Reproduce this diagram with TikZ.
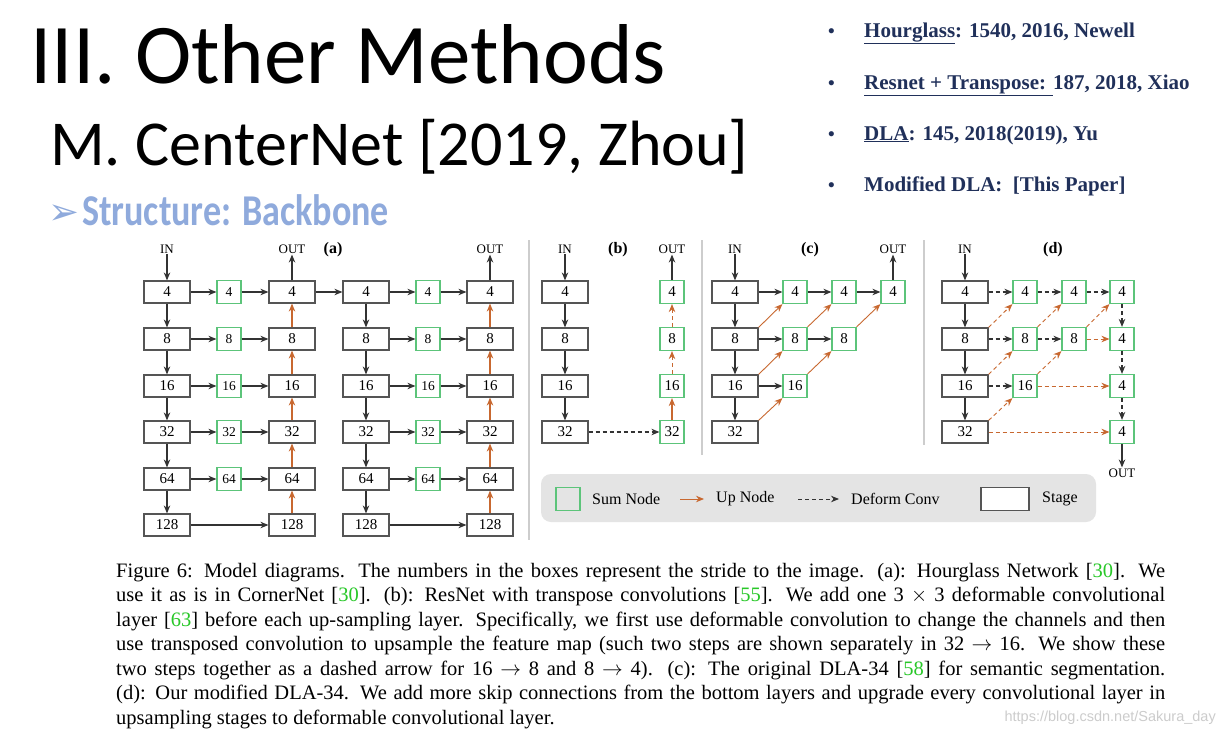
\documentclass[tikz,border=0pt]{standalone}
\usepackage{fontspec}
\usepackage{xcolor}
\usepackage{tikz}
\usetikzlibrary{arrows.meta,positioning}
\setmainfont{Liberation Serif}
\newfontfamily\titlefont{Carlito}
\newfontfamily\condfont[FakeStretch=0.82]{Carlito}
\newfontfamily\symfont{DejaVu Sans}
\newfontfamily\wmfont{Liberation Sans}
\definecolor{sumgreen}{RGB}{92,196,122}
\definecolor{uporange}{RGB}{200,104,48}
\definecolor{boxgray}{RGB}{85,85,85}
\definecolor{legendbg}{RGB}{228,228,228}
\definecolor{navy}{RGB}{32,48,90}
\definecolor{lightblue}{RGB}{143,170,220}
\definecolor{citegreen}{RGB}{40,200,40}
\definecolor{sepgray}{RGB}{205,205,205}
\newcommand{\cit}[1]{[\textcolor{citegreen}{#1}]}

\begin{document}
\begin{tikzpicture}[x=1pt,y=-1pt,
stage/.style={draw=boxgray,line width=1.2pt,minimum width=46pt,minimum height=22pt,inner sep=0pt,font=\fontsize{15}{15}\selectfont},
sumn/.style={draw=sumgreen,line width=1.2pt,minimum width=24pt,minimum height=23pt,inner sep=0pt,font=\fontsize{15}{15}\selectfont},
sumsm/.style={sumn,font=\fontsize{13.5}{13.5}\selectfont},
lbl/.style={font=\fontsize{13}{13}\selectfont,inner sep=1pt},
plbl/.style={font=\bfseries\fontsize{16}{16}\selectfont,inner sep=0pt},
arr/.style={-{Stealth[length=8pt,width=6.5pt]},line width=1.1pt,draw=black!80},
uparr/.style={arr,draw=uporange},
diag/.style={uparr,line width=0.9pt},
dfarr/.style={arr,dash pattern=on 4pt off 3pt},
dfup/.style={diag,dash pattern=on 4pt off 3pt}
]
\fill[white] (0,0) rectangle (1226,736);
\useasboundingbox (0,0) rectangle (1226,736);

% slide heading
\node[anchor=base west,inner sep=0pt,font=\titlefont\fontsize{85}{85}\selectfont] (title) at (30,83) {III. Other Methods};
\node[anchor=base west,inner sep=0pt,font=\titlefont\fontsize{64}{64}\selectfont] (sub) at (50,165) {M. CenterNet [2019, Zhou]};
\node[anchor=base west,inner sep=0pt,text=lightblue,font=\symfont\fontsize{37}{37}\selectfont] (sbul) at (48,224) {➢};
\node[anchor=base west,inner sep=0pt,text=lightblue,font=\condfont\bfseries\fontsize{44}{44}\selectfont] (struct) at (82,225) {Structure: Backbone};

% bullets
\foreach \yy/\txt in {37/{\underline{Hourglass}: 1540, 2016, Newell},
  89/{\underline{Resnet + Transpose: }187, 2018, Xiao},
  140/{\underline{DLA}: 145, 2018(2019), Yu},
  191/{Modified DLA:\ \ [This Paper]}}{
  \node[anchor=base west,inner sep=0pt,text=navy,font=\bfseries\fontsize{19}{19}\selectfont] at (828,\yy) {\textbullet};
  \node[anchor=base west,inner sep=0pt,text=navy,font=\bfseries\fontsize{21}{21}\selectfont] at (864,\yy) {\txt};
}

% panel separators
\draw[sepgray,line width=1.5pt] (529,240) -- (529,540);
\draw[sepgray,line width=1.5pt] (702,240) -- (702,455);
\draw[sepgray,line width=1.5pt] (924,240) -- (924,445);

% (a) hourglass
\node[lbl] (ain) at (167,249) {IN};
\node[lbl] (aout1) at (292,249) {OUT};
\node[lbl] (aout2) at (490,249) {OUT};
\node[plbl] (alab) at (333,250) {(a)};
\foreach \s/\yy in {4/292,8/339,16/386,32/432,64/479,128/525}{
  \node[stage] (a1-\s) at (167,\yy) {\s};
  \node[stage] (a3-\s) at (292,\yy) {\s};
  \node[stage] (a4-\s) at (366,\yy) {\s};
  \node[stage] (a6-\s) at (490,\yy) {\s};
}
\foreach \s/\yy in {4/292,8/339,16/386,32/432,64/479}{
  \node[sumsm] (a2-\s) at (229,\yy) {\s};
  \node[sumsm] (a5-\s) at (428,\yy) {\s};
  \draw[arr] (a1-\s) -- (a2-\s);
  \draw[arr] (a2-\s) -- (a3-\s);
  \draw[arr] (a4-\s) -- (a5-\s);
  \draw[arr] (a5-\s) -- (a6-\s);
}
\foreach \s/\t in {4/8,8/16,16/32,32/64,64/128}{
  \draw[arr] (a1-\s) -- (a1-\t);
  \draw[arr] (a4-\s) -- (a4-\t);
  \draw[uparr] (a3-\t) -- (a3-\s);
  \draw[uparr] (a6-\t) -- (a6-\s);
}
\draw[arr] (a1-128) -- (a3-128);
\draw[arr] (a4-128) -- (a6-128);
\draw[arr] (a3-4) -- (a4-4);
\draw[arr] (ain) -- (a1-4);
\draw[arr] (a3-4) -- (aout1);
\draw[arr] (a6-4) -- (aout2);

% (b) resnet + transpose
\node[lbl] (bin) at (565,249) {IN};
\node[lbl] (bout) at (672,249) {OUT};
\node[plbl] (blab) at (618,250) {(b)};
\foreach \s/\yy in {4/292,8/339,16/386,32/432}{
  \node[stage] (b1-\s) at (565,\yy) {\s};
  \node[sumn] (b2-\s) at (672,\yy) {\s};
}
\draw[arr] (bin) -- (b1-4);
\draw[arr] (b1-4) -- (b1-8);
\draw[arr] (b1-8) -- (b1-16);
\draw[arr] (b1-16) -- (b1-32);
\draw[dfarr] (b1-32) -- (b2-32);
\draw[uparr] (b2-32) -- (b2-16);
\draw[dfup] (b2-16) -- (b2-8);
\draw[dfup] (b2-8) -- (b2-4);
\draw[arr] (b2-4) -- (bout);

% (c) DLA-34
\node[lbl] (cin) at (735,249) {IN};
\node[lbl] (cout) at (893,249) {OUT};
\node[plbl] (clab) at (810,250) {(c)};
\foreach \s/\yy in {4/292,8/339,16/386,32/432}{
  \node[stage] (c1-\s) at (735,\yy) {\s};
}
\node[sumn] (c2-4) at (795,292) {4};
\node[sumn] (c2-8) at (795,339) {8};
\node[sumn] (c2-16) at (795,386) {16};
\node[sumn] (c3-4) at (844,292) {4};
\node[sumn] (c3-8) at (844,339) {8};
\node[sumn] (c4-4) at (893,292) {4};
\draw[arr] (cin) -- (c1-4);
\draw[arr] (c1-4) -- (c1-8);
\draw[arr] (c1-8) -- (c1-16);
\draw[arr] (c1-16) -- (c1-32);
\draw[arr] (c1-4) -- (c2-4);
\draw[arr] (c2-4) -- (c3-4);
\draw[arr] (c3-4) -- (c4-4);
\draw[arr] (c1-8) -- (c2-8);
\draw[arr] (c2-8) -- (c3-8);
\draw[arr] (c1-16) -- (c2-16);
\draw[diag] (c1-8.north east) -- (c2-4.south west);
\draw[diag] (c1-16.north east) -- (c2-8.south west);
\draw[diag] (c1-32.north east) -- (c2-16.south west);
\draw[diag] (c2-8.north east) -- (c3-4.south west);
\draw[diag] (c2-16.north east) -- (c3-8.south west);
\draw[diag] (c3-8.north east) -- (c4-4.south west);
\draw[arr] (c4-4) -- (cout);

% (d) modified DLA-34
\node[lbl] (din) at (965,249) {IN};
\node[plbl] (dlab) at (1053,250) {(d)};
\node[lbl] (dout) at (1122,473) {OUT};
\foreach \s/\yy in {4/292,8/339,16/386,32/432}{
  \node[stage] (d1-\s) at (965,\yy) {\s};
}
\node[sumn] (d2-4) at (1025,292) {4};
\node[sumn] (d2-8) at (1025,339) {8};
\node[sumn] (d2-16) at (1025,386) {16};
\node[sumn] (d3-4) at (1074,292) {4};
\node[sumn] (d3-8) at (1074,339) {8};
\node[sumn] (d4-a) at (1122,292) {4};
\node[sumn] (d4-b) at (1122,339) {4};
\node[sumn] (d4-c) at (1122,386) {4};
\node[sumn] (d4-d) at (1122,432) {4};
\draw[arr] (din) -- (d1-4);
\draw[arr] (d1-4) -- (d1-8);
\draw[arr] (d1-8) -- (d1-16);
\draw[arr] (d1-16) -- (d1-32);
\draw[dfarr] (d1-4) -- (d2-4);
\draw[dfarr] (d2-4) -- (d3-4);
\draw[dfarr] (d3-4) -- (d4-a);
\draw[dfarr] (d1-8) -- (d2-8);
\draw[dfarr] (d2-8) -- (d3-8);
\draw[dfarr] (d1-16) -- (d2-16);
\draw[dfarr] (d4-a) -- (d4-b);
\draw[dfarr] (d4-b) -- (d4-c);
\draw[dfarr] (d4-c) -- (d4-d);
\draw[dfup] (d1-8.north east) -- (d2-4.south west);
\draw[dfup] (d1-16.north east) -- (d2-8.south west);
\draw[dfup] (d1-32.north east) -- (d2-16.south west);
\draw[dfup] (d2-8.north east) -- (d3-4.south west);
\draw[dfup] (d2-16.north east) -- (d3-8.south west);
\draw[dfup] (d3-8.north east) -- (d4-a.south west);
\draw[dfup] (d3-8) -- (d4-b);
\draw[dfup] (d2-16) -- (d4-c);
\draw[dfup] (d1-32) -- (d4-d);
\draw[arr] (d4-d) -- (dout);

% legend
\fill[legendbg,rounded corners=10pt] (541,474) rectangle (1096,522);
\node[sumn] (lsum) at (568,499) {};
\node[anchor=west,inner sep=0pt,font=\fontsize{16}{16}\selectfont] (lsumt) at (592,499) {Sum Node};
\coordinate (lu1) at (680,499);
\coordinate (lu2) at (704,499);
\draw[diag] (lu1) -- (lu2);
\node[anchor=west,inner sep=0pt,font=\fontsize{16}{16}\selectfont] (lupt) at (716,499) {Up Node};
\coordinate (ld1) at (798,499);
\coordinate (ld2) at (839,499);
\draw[dfarr,line width=0.9pt] (ld1) -- (ld2);
\node[anchor=west,inner sep=0pt,font=\fontsize{16}{16}\selectfont] (ldt) at (851,499) {Deform Conv};
\node[stage,fill=white,minimum width=48pt,minimum height=23pt] (lst) at (1005,499) {};
\node[anchor=west,inner sep=0pt,font=\fontsize{16}{16}\selectfont] (lstt) at (1042,499) {Stage};

% caption
\node[anchor=north west,text width=1049pt,align=justify,inner sep=0pt,font=\fontsize{20.5}{24.5}\selectfont] (cap) at (116,563) {Figure 6: Model diagrams. The numbers in the boxes represent the stride to the image. (a): Hourglass Network \cit{30}. We\linebreak
use it as is in CornerNet \cit{30}. (b): ResNet with transpose convolutions \cit{55}. We add one 3 $\times$ 3 deformable convolutional\linebreak
layer \cit{63} before each up-sampling layer. Specifically, we first use deformable convolution to change the channels and then\linebreak
use transposed convolution to upsample the feature map (such two steps are shown separately in 32 $\rightarrow$ 16. We show these\linebreak
two steps together as a dashed arrow for 16 $\rightarrow$ 8 and 8 $\rightarrow$ 4). (c): The original DLA-34 \cit{58} for semantic segmentation.\linebreak
(d): Our modified DLA-34. We add more skip connections from the bottom layers and upgrade every convolutional layer in\linebreak
upsampling stages to deformable convolutional layer.};

\node[anchor=east,inner sep=0pt,text=black!20,font=\wmfont\fontsize{14.5}{14.5}\selectfont] (wm) at (1216,718) {https://blog.csdn.net/Sakura\_day};
\end{tikzpicture}
\end{document}
